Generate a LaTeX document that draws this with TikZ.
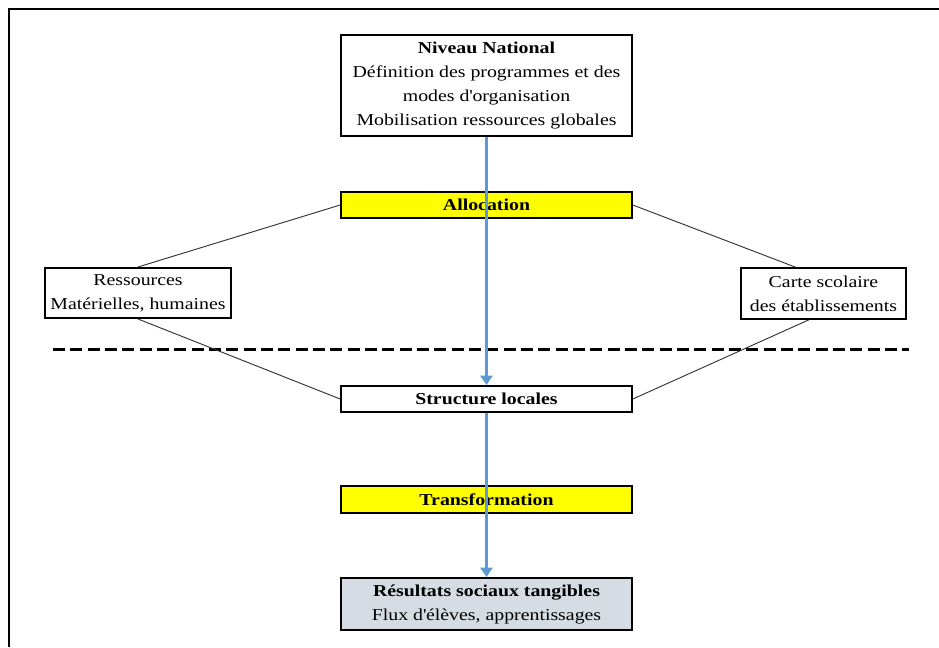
\documentclass[tikz,border=0pt]{standalone}
\usepackage{fontspec}
\setmainfont[FakeStretch=1.19]{Liberation Serif}
\usetikzlibrary{arrows.meta,calc}
\definecolor{jaune}{HTML}{FFFF00}
\definecolor{bleu}{HTML}{5B9BD5}
\definecolor{grisbleu}{HTML}{D6DCE4}
\tikzset{
  boite/.style={draw, line width=1.5pt, inner sep=0pt, align=center,
    font=\fontsize{12.5}{18}\selectfont},
  large/.style={boite, minimum width=218pt},
  lien/.style={draw=black!80, line width=0.7pt},
  fleche/.style={draw=bleu, line width=2.2pt, -{Triangle[width=9pt,length=7pt]}}
}
\begin{document}
\begin{tikzpicture}[x=0.75pt,y=-0.75pt]
\useasboundingbox (0,0) rectangle (939,647);
% cadre
\draw[line width=1.5pt] (939,9)--(9,9)--(9,647);
% boites
\node[large, minimum height=75.5pt, fill=white] (niveau) at (486.5,85.5)
  {\textbf{Niveau National}\\D\'efinition des programmes et des\\modes d\textquotesingle organisation\\Mobilisation ressources globales};
\node[large, minimum height=19.5pt, fill=jaune] (alloc) at (486.5,205) {\textbf{Allocation}};
\node[boite, minimum width=139.5pt, minimum height=37.5pt] (ress) at (138,293)
  {Ressources\\Mat\'erielles, humaines};
\node[boite, minimum width=124pt, minimum height=38pt] (carte) at (823.5,293.5)
  {Carte scolaire\\des \'etablissements};
\node[large, minimum height=19.5pt] (struct) at (486.5,399) {\textbf{Structure locales}};
\node[large, minimum height=20pt, fill=jaune] (transf) at (486.5,499.5) {\textbf{Transformation}};
\node[large, minimum height=39pt, fill=grisbleu] (result) at (486.5,604)
  {\textbf{R\'esultats sociaux tangibles}\\Flux d\textquotesingle \'el\`eves, apprentissages};
% separation
\coordinate (sepg) at (53,349);
\coordinate (sepd) at (909,349);
\draw[line width=2.25pt, dash pattern=on 9pt off 4pt] (sepg)--(sepd);
% liens
\draw[lien] (alloc.west)--(ress.north);
\draw[lien] (ress.south)--(struct.west);
\draw[lien] (alloc.east)--([xshift=-21pt]carte.north);
\draw[lien] ([xshift=-11pt]carte.south)--(struct.east);
% fleches
\draw[fleche] (niveau.south)--(struct.north);
\draw[fleche] (struct.south)--(result.north);
\end{tikzpicture}
\end{document}
